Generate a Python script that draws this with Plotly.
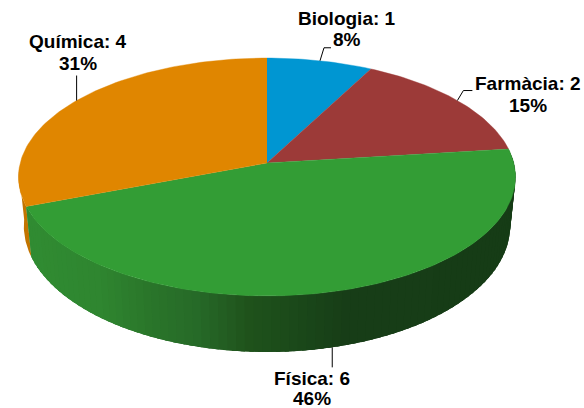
import math
import plotly.graph_objects as go

categories = ["Biologia", "Farmàcia", "Física", "Química"]
values = [1, 2, 6, 4]
colors = ["#0096d2", "#9c3a38", "#339d35", "#e08600"]
side_orange = "#c27400"
# side shading of the green wall, as (screen x, colour)
stops = [(25, (48, 140, 50)), (100, (47, 134, 48)), (150, (42, 118, 42)), (200, (38, 105, 40)),
         (250, (31, 82, 27)), (290, (27, 74, 26)), (345, (23, 61, 23)), (520, (22, 60, 22))]

CX, CY, A, B, K = 267.0, 163.0, 246.8, 117.3, 0.1176
CY2, A2, B2 = 211.0, 241.5, 124.4


def top(t):
    X, Y = math.sin(t), math.cos(t)
    w = 1 + K * Y
    return CX + A * X / w, CY - B * Y / w


def base(t):
    X, Y = math.sin(t), math.cos(t)
    w = 1 + K * Y
    return CX + A2 * X / w, CY2 - B2 * Y / w


def arc(f, a, b, n):
    return [f(a + (b - a) * i / n) for i in range(n + 1)]


def shade(x):
    for (x0, c0), (x1, c1) in zip(stops, stops[1:]):
        if x <= x1:
            f = max(0, (x - x0) / (x1 - x0))
            return "rgb(%d,%d,%d)" % tuple(round(p + (q - p) * f) for p, q in zip(c0, c1))
    return "rgb(%d,%d,%d)" % stops[-1][1]


def poly(points, color, line=0.0):
    xs = [p[0] for p in points]
    ys = [p[1] for p in points]
    return go.Scatter(x=xs, y=ys, mode="lines", fill="toself", fillcolor=color,
                      line=dict(color=color, width=line), hoverinfo="skip", showlegend=False)


total = sum(values)
edges = [0.0]
for v in values:
    edges.append(edges[-1] + v / total * 2 * math.pi)

fig = go.Figure()

# walls
a_o0 = edges[3]
a_o1 = a_o0 + math.radians(17)
fig.add_trace(poly(arc(top, a_o0, a_o1, 20) + arc(base, a_o1, a_o0, 20), side_orange))
a0, a1 = edges[2], edges[3]
N = 90
step = (a1 - a0) / N
for i in range(N):
    p = a0 + step * i
    q = min(a1, p + 2.5 * step)
    col = shade(base(p + step / 2)[0])
    fig.add_trace(poly(arc(top, p, q, 4) + arc(base, q, p, 4), col))

# top faces
for i, c in enumerate(colors):
    n = max(8, int(values[i] * 24))
    fig.add_trace(poly([(CX, CY)] + arc(top, edges[i], edges[i + 1], n), c, 0.4))

# leaders and labels
anchor_top = {"Biologia": ((4, -13), (11, -13)), "Farmàcia": ((6, -10), (15, -10)), "Química": ((0, -25),)}
label_xy = {"Biologia": (346.5, 18, 39), "Farmàcia": (528, 83, 105), "Química": (78, 41, 63), "Física": (312, 378, 398)}
annotations = []
for i, name in enumerate(categories):
    mid = (edges[i] + edges[i + 1]) / 2
    px, py = base(mid) if name == "Física" else top(mid)
    if name == "Física":
        pts = [(px, py), (px, py + 20)]
    else:
        pts = [(px, py)] + [(px + dx, py + dy) for dx, dy in anchor_top[name]]
    fig.add_trace(go.Scatter(x=[p[0] for p in pts], y=[p[1] for p in pts], mode="lines",
                             line=dict(color="#000000", width=1), hoverinfo="skip", showlegend=False))
    lx, ly1, ly2 = label_xy[name]
    pct = round(values[i] / total * 100)
    for txt, ly in ((f"{name}: {values[i]}", ly1), (f"{pct}%", ly2)):
        annotations.append(dict(x=lx, y=ly, text=f"<b>{txt}</b>", showarrow=False, xref="x", yref="y",
                                xanchor="center", yanchor="middle",
                                font=dict(family="Liberation Sans", size=19, color="#000000")))

fig.update_layout(
    width=584, height=408, margin=dict(l=0, r=0, t=0, b=0), paper_bgcolor="white", plot_bgcolor="white",
    xaxis=dict(range=[0, 584], visible=False, fixedrange=True),
    yaxis=dict(range=[408, 0], visible=False, fixedrange=True),
    annotations=annotations, showlegend=False,
)
fig.write_html("out.html", config={"displayModeBar": False},
               post_script="document.body.style.margin='0';document.documentElement.style.overflow='hidden';")
